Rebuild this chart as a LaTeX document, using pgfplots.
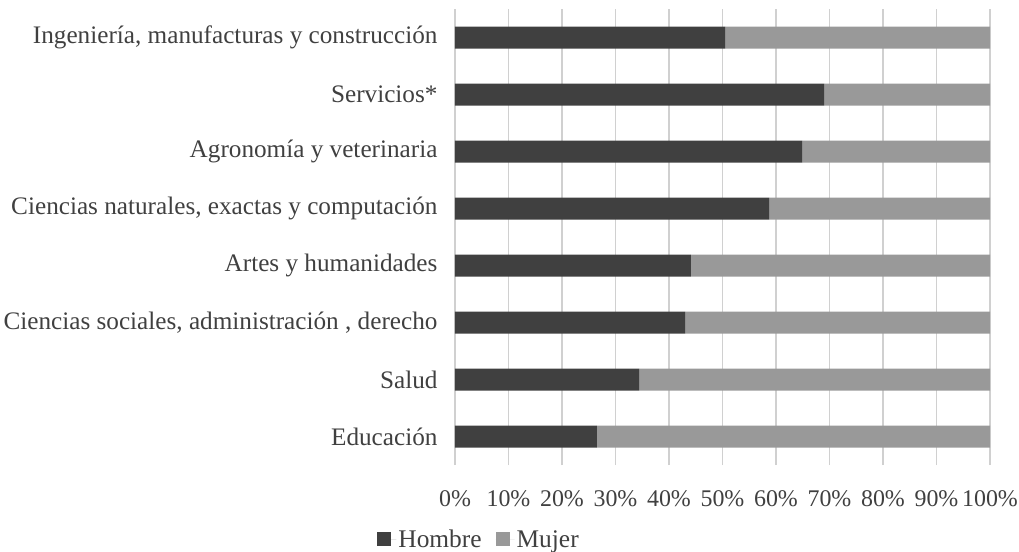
\documentclass[border=0pt]{standalone}
\usepackage{fontspec}
\setmainfont{Liberation Serif}
\usepackage{pgfplots}
\pgfplotsset{compat=1.18}
\definecolor{hom}{HTML}{404040}
\definecolor{muj}{HTML}{999999}
\definecolor{gridc}{HTML}{D0D0D0}
\definecolor{txt}{HTML}{404040}
\begin{document}
\begin{tikzpicture}[font=\fontsize{24.5}{28}\selectfont]
\begin{axis}[
  at={(0,0)}, anchor=south west,
  scale only axis, width=535bp, height=456bp,
  xbar stacked, bar width=22bp,
  xmin=0, xmax=100, ymin=-0.5, ymax=7.5,
  xtick={0,10,...,100},
  xticklabel={\pgfmathprintnumber{\tick}\%},
  /pgf/number format/assume math mode=true,
  ytick={0,...,7},
  yticklabels={Educación, Salud, {Ciencias sociales, administración , derecho}, Artes y humanidades, {Ciencias naturales, exactas y computación}, Agronomía y veterinaria, Servicios*, {Ingeniería, manufacturas y construcción}},
  major tick length=0pt,
  tick style={draw=none},
  axis line style={draw=none},
  xmajorgrids, grid style={gridc, line width=1.5bp},
  ticklabel style={text=txt},
  yticklabel style={anchor=east, xshift=-14bp, font=\fontsize{25.3}{28}\selectfont},
  xticklabel style={anchor=center, yshift=-34bp, font=\fontsize{24}{28}\selectfont},
  legend style={at={(0.045,-0.164)}, anchor=center, draw=none, fill=none,
    legend columns=-1, text=txt, font=\fontsize{25.5}{28}\selectfont,
    /tikz/every even column/.append style={column sep=12bp}},
  legend image code/.code={\fill[#1] (0bp,-6bp) rectangle (14bp,8bp); \path (0bp,0bp) -- (19bp,0bp);},
]
\addplot[fill=hom, draw=none] coordinates {(26.5,0) (34.4,1) (43.0,2) (44.1,3) (58.7,4) (64.9,5) (69.0,6) (50.5,7)};
\addplot[fill=muj, draw=none] coordinates {(73.5,0) (65.6,1) (57.0,2) (55.9,3) (41.3,4) (35.1,5) (31.0,6) (49.5,7)};
\legend{Hombre, Mujer}
\end{axis}
\pgfresetboundingbox
\path[use as bounding box] (-455bp,-87bp) rectangle (564bp,465bp);
\end{tikzpicture}
\end{document}
